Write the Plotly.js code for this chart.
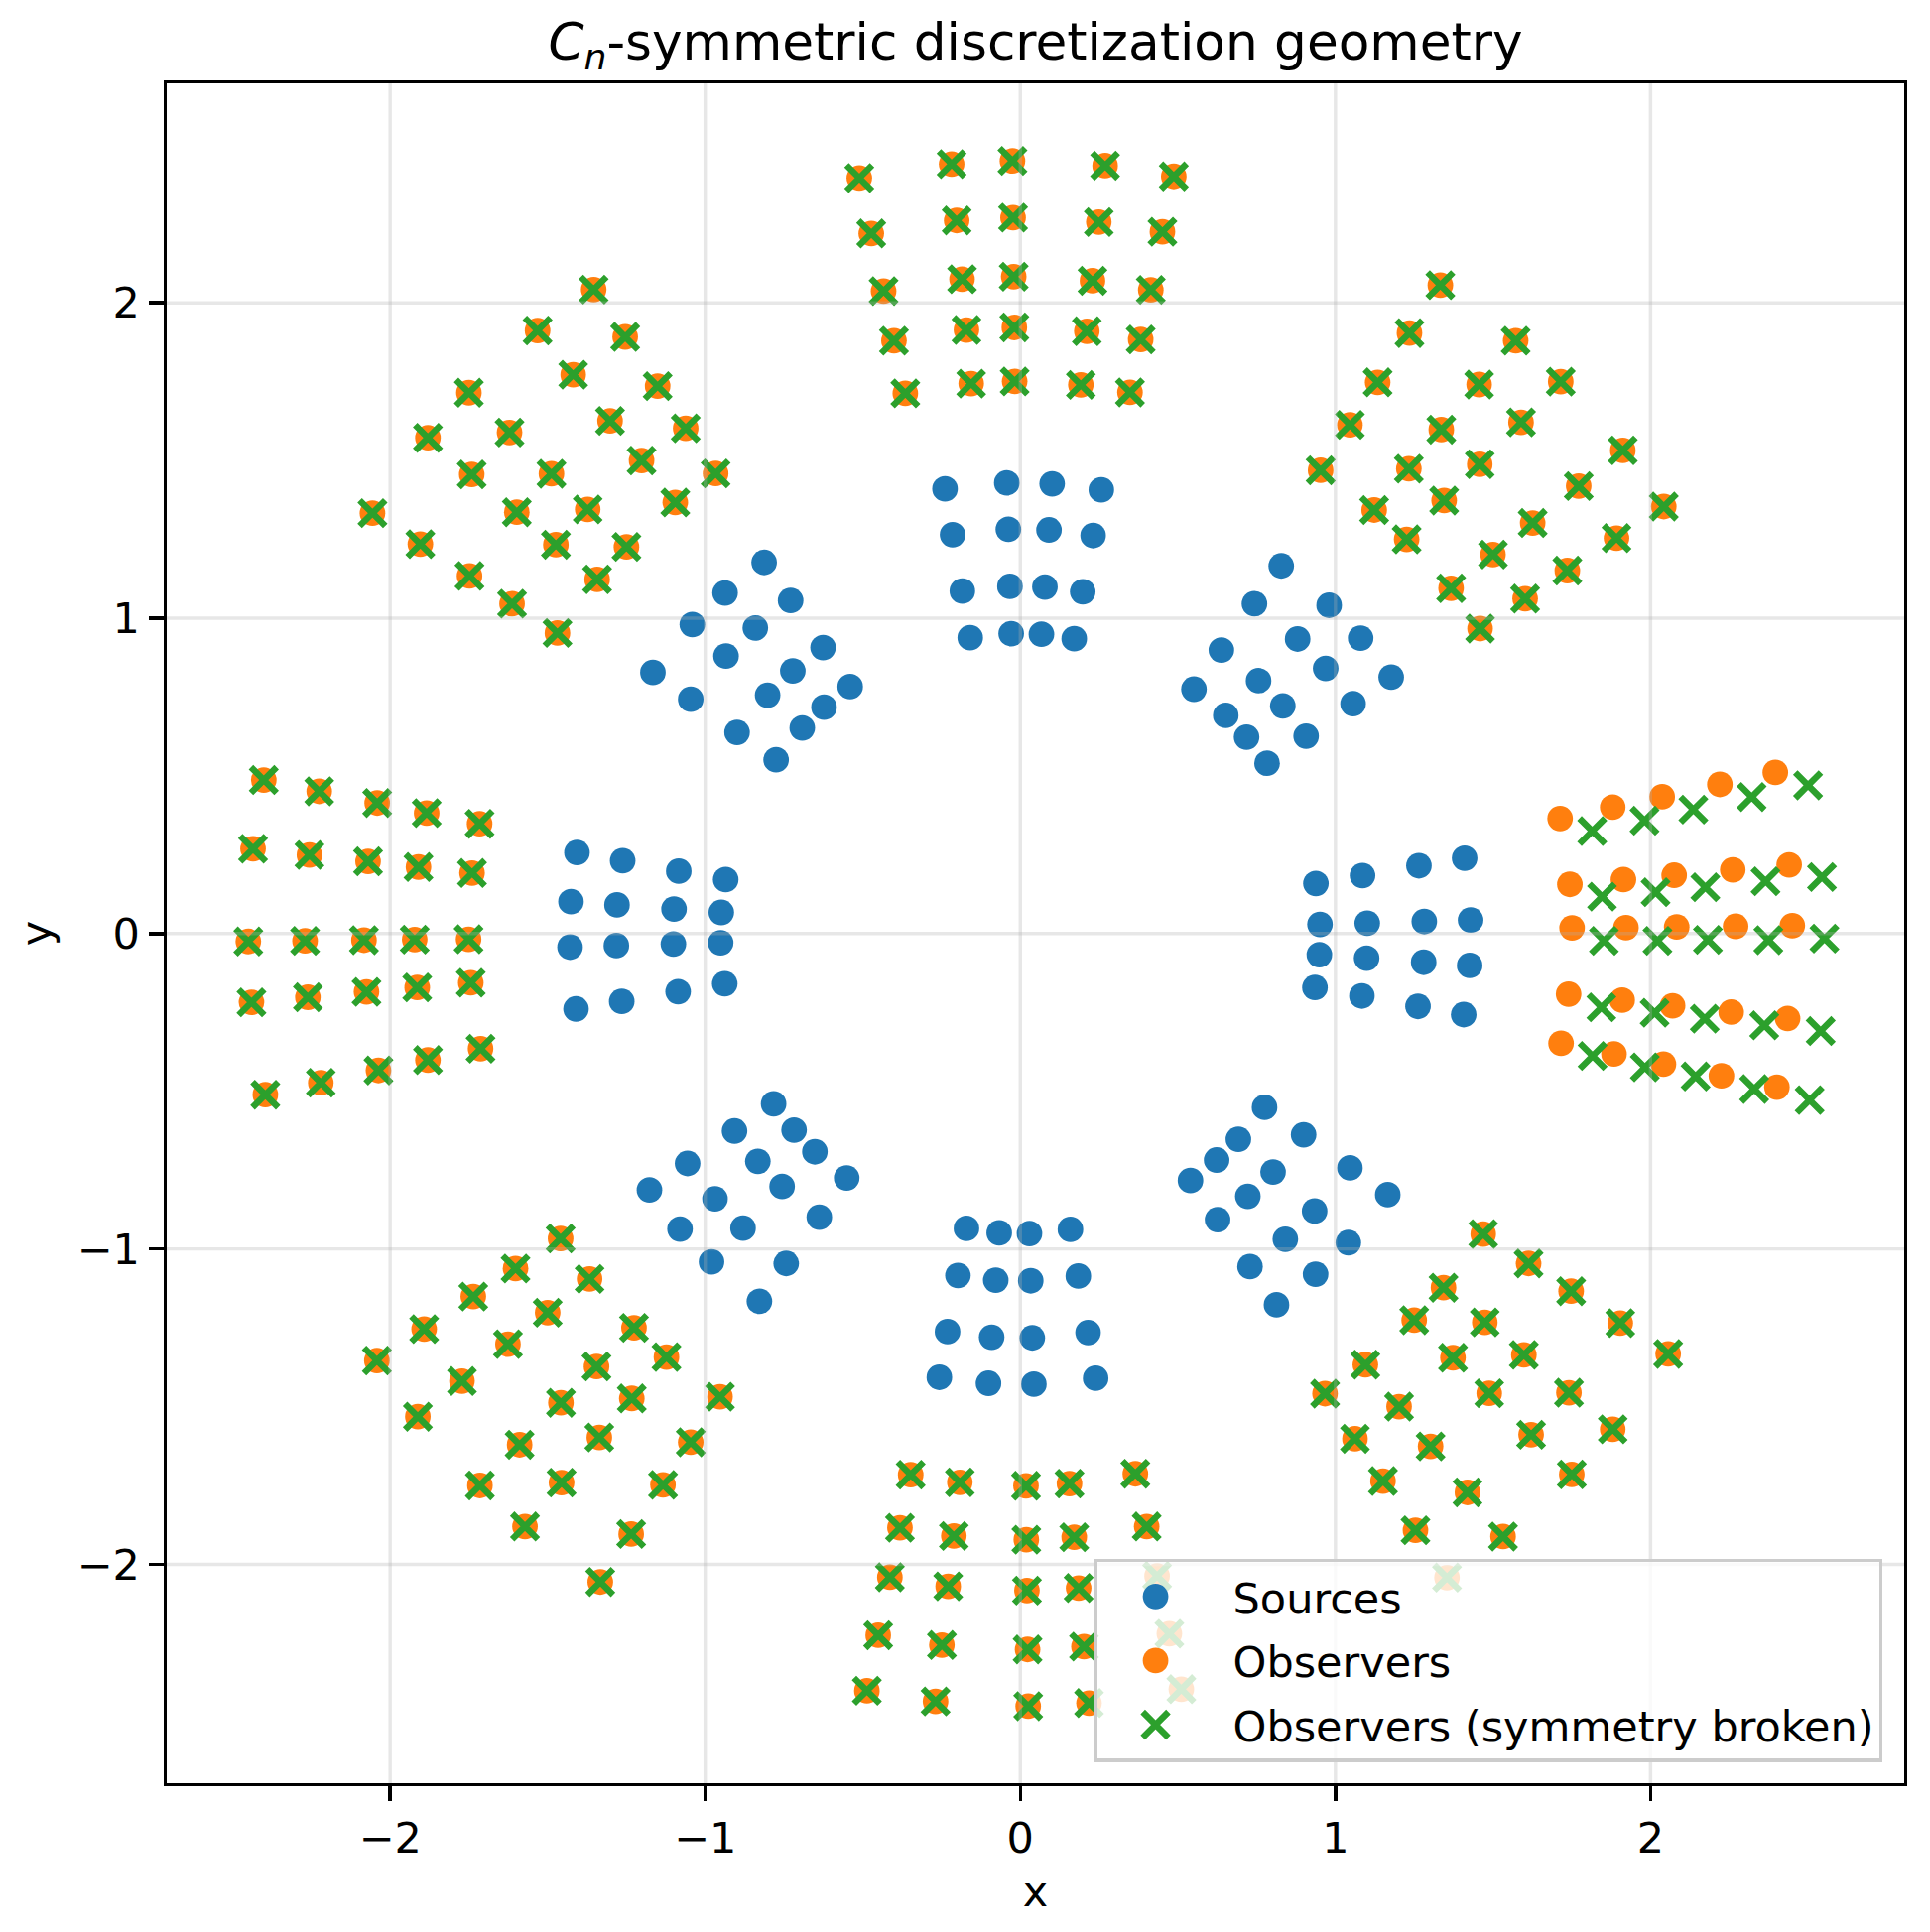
<!DOCTYPE html>
<html>
<head>
<meta charset="utf-8">
<script src="https://cdn.plot.ly/plotly-3.0.1.min.js"></script>
<style>html,body{margin:0;padding:0;background:#fff;}#chart{width:1945px;height:1947px;}</style>
</head>
<body>
<div id="chart"></div>
<script>
// ---------------- Data ----------------
const tickVals = [-2, -1, 0, 1, 2];
const tickText = ['\u22122', '\u22121', '0', '1', '2'];
const seriesNames = ['Sources', 'Observers', 'Observers (symmetry broken)'];

// Sources: 8 clusters of 16 points
const srcE_x  = [0.938, 1.086, 1.265, 1.410, 0.951, 1.101, 1.282, 1.429, 0.949, 1.099, 1.280, 1.426, 0.935, 1.084, 1.262, 1.407];
const srcE_y  = [0.159, 0.184, 0.215, 0.239, 0.029, 0.033, 0.038, 0.043, -0.067, -0.078, -0.091, -0.101, -0.171, -0.198, -0.231, -0.257];
const srcNE_x = [0.551, 0.638, 0.743, 0.828, 0.652, 0.756, 0.880, 0.980, 0.718, 0.833, 0.969, 1.080, 0.783, 0.907, 1.056, 1.177];
const srcNE_y = [0.775, 0.899, 1.046, 1.166, 0.692, 0.802, 0.934, 1.041, 0.623, 0.722, 0.841, 0.937, 0.540, 0.626, 0.729, 0.813];
const srcN_x  = [-0.159, -0.184, -0.215, -0.239, -0.029, -0.033, -0.038, -0.043, 0.067, 0.078, 0.091, 0.101, 0.171, 0.198, 0.231, 0.257];
const srcN_y  = [0.938, 1.086, 1.265, 1.410, 0.951, 1.101, 1.282, 1.429, 0.949, 1.099, 1.280, 1.426, 0.935, 1.084, 1.262, 1.407];
const srcNW_x = [-0.775, -0.899, -1.046, -1.166, -0.692, -0.802, -0.934, -1.041, -0.623, -0.722, -0.841, -0.937, -0.540, -0.626, -0.729, -0.813];
const srcNW_y = [0.551, 0.638, 0.743, 0.828, 0.652, 0.756, 0.880, 0.980, 0.718, 0.833, 0.969, 1.080, 0.783, 0.907, 1.056, 1.177];
const srcW_x  = [-0.938, -1.086, -1.265, -1.410, -0.951, -1.101, -1.282, -1.429, -0.949, -1.099, -1.280, -1.426, -0.935, -1.084, -1.262, -1.407];
const srcW_y  = [-0.159, -0.184, -0.215, -0.239, -0.029, -0.033, -0.038, -0.043, 0.067, 0.078, 0.091, 0.101, 0.171, 0.198, 0.231, 0.257];
const srcSW_x = [-0.551, -0.638, -0.743, -0.828, -0.652, -0.756, -0.880, -0.980, -0.718, -0.833, -0.969, -1.080, -0.783, -0.907, -1.056, -1.177];
const srcSW_y = [-0.775, -0.899, -1.046, -1.166, -0.692, -0.802, -0.934, -1.041, -0.623, -0.722, -0.841, -0.937, -0.540, -0.626, -0.729, -0.813];
const srcS_x  = [0.159, 0.184, 0.215, 0.239, 0.029, 0.033, 0.038, 0.043, -0.067, -0.078, -0.091, -0.101, -0.171, -0.198, -0.231, -0.257];
const srcS_y  = [-0.938, -1.086, -1.265, -1.410, -0.951, -1.101, -1.282, -1.429, -0.949, -1.099, -1.280, -1.426, -0.935, -1.084, -1.262, -1.407];
const srcSE_x = [0.775, 0.899, 1.046, 1.166, 0.692, 0.802, 0.934, 1.041, 0.623, 0.722, 0.841, 0.937, 0.540, 0.626, 0.729, 0.813];
const srcSE_y = [-0.551, -0.638, -0.743, -0.828, -0.652, -0.756, -0.880, -0.980, -0.718, -0.833, -0.969, -1.080, -0.783, -0.907, -1.056, -1.177];

// Observers: 8 clusters of 25 points
const obsE_x  = [1.713, 1.880, 2.037, 2.220, 2.396, 1.744, 1.914, 2.075, 2.261, 2.440, 1.751, 1.922, 2.083, 2.270, 2.450, 1.740, 1.910, 2.070, 2.256, 2.435, 1.716, 1.884, 2.041, 2.225, 2.401];
const obsE_y  = [0.365, 0.401, 0.434, 0.473, 0.511, 0.156, 0.171, 0.185, 0.202, 0.218, 0.018, 0.019, 0.021, 0.023, 0.025, -0.192, -0.211, -0.229, -0.249, -0.269, -0.348, -0.382, -0.414, -0.451, -0.487];
const obsNE_x = [0.953, 1.046, 1.134, 1.235, 1.333, 1.123, 1.233, 1.336, 1.456, 1.572, 1.226, 1.345, 1.458, 1.589, 1.715, 1.367, 1.500, 1.626, 1.772, 1.912, 1.459, 1.602, 1.736, 1.892, 2.042];
const obsNE_y = [1.469, 1.613, 1.748, 1.904, 2.056, 1.343, 1.474, 1.598, 1.741, 1.880, 1.250, 1.373, 1.488, 1.621, 1.750, 1.095, 1.202, 1.302, 1.419, 1.532, 0.967, 1.062, 1.151, 1.254, 1.354];
const obsN_x  = [-0.365, -0.401, -0.434, -0.473, -0.511, -0.156, -0.171, -0.185, -0.202, -0.218, -0.018, -0.019, -0.021, -0.023, -0.025, 0.192, 0.211, 0.229, 0.249, 0.269, 0.348, 0.382, 0.414, 0.451, 0.487];
const obsN_y  = [1.713, 1.880, 2.037, 2.220, 2.396, 1.744, 1.914, 2.075, 2.261, 2.440, 1.751, 1.922, 2.083, 2.270, 2.450, 1.740, 1.910, 2.070, 2.256, 2.435, 1.716, 1.884, 2.041, 2.225, 2.401];
const obsNW_x = [-1.469, -1.613, -1.748, -1.904, -2.056, -1.343, -1.474, -1.598, -1.741, -1.880, -1.250, -1.373, -1.488, -1.621, -1.750, -1.095, -1.202, -1.302, -1.419, -1.532, -0.967, -1.062, -1.151, -1.254, -1.354];
const obsNW_y = [0.953, 1.046, 1.134, 1.235, 1.333, 1.123, 1.233, 1.336, 1.456, 1.572, 1.226, 1.345, 1.458, 1.589, 1.715, 1.367, 1.500, 1.626, 1.772, 1.912, 1.459, 1.602, 1.736, 1.892, 2.042];
const obsW_x  = [-1.713, -1.880, -2.037, -2.220, -2.396, -1.744, -1.914, -2.075, -2.261, -2.440, -1.751, -1.922, -2.083, -2.270, -2.450, -1.740, -1.910, -2.070, -2.256, -2.435, -1.716, -1.884, -2.041, -2.225, -2.401];
const obsW_y  = [-0.365, -0.401, -0.434, -0.473, -0.511, -0.156, -0.171, -0.185, -0.202, -0.218, -0.018, -0.019, -0.021, -0.023, -0.025, 0.192, 0.211, 0.229, 0.249, 0.269, 0.348, 0.382, 0.414, 0.451, 0.487];
const obsSW_x = [-0.953, -1.046, -1.134, -1.235, -1.333, -1.123, -1.233, -1.336, -1.456, -1.572, -1.226, -1.345, -1.458, -1.589, -1.715, -1.367, -1.500, -1.626, -1.772, -1.912, -1.459, -1.602, -1.736, -1.892, -2.042];
const obsSW_y = [-1.469, -1.613, -1.748, -1.904, -2.056, -1.343, -1.474, -1.598, -1.741, -1.880, -1.250, -1.373, -1.488, -1.621, -1.750, -1.095, -1.202, -1.302, -1.419, -1.532, -0.967, -1.062, -1.151, -1.254, -1.354];
const obsS_x  = [0.365, 0.401, 0.434, 0.473, 0.511, 0.156, 0.171, 0.185, 0.202, 0.218, 0.018, 0.019, 0.021, 0.023, 0.025, -0.192, -0.211, -0.229, -0.249, -0.269, -0.348, -0.382, -0.414, -0.451, -0.487];
const obsS_y  = [-1.713, -1.880, -2.037, -2.220, -2.396, -1.744, -1.914, -2.075, -2.261, -2.440, -1.751, -1.922, -2.083, -2.270, -2.450, -1.740, -1.910, -2.070, -2.256, -2.435, -1.716, -1.884, -2.041, -2.225, -2.401];
const obsSE_x = [1.469, 1.613, 1.748, 1.904, 2.056, 1.343, 1.474, 1.598, 1.741, 1.880, 1.250, 1.373, 1.488, 1.621, 1.750, 1.095, 1.202, 1.302, 1.419, 1.532, 0.967, 1.062, 1.151, 1.254, 1.354];
const obsSE_y = [-0.953, -1.046, -1.134, -1.235, -1.333, -1.123, -1.233, -1.336, -1.456, -1.572, -1.226, -1.345, -1.458, -1.589, -1.715, -1.367, -1.500, -1.626, -1.772, -1.912, -1.459, -1.602, -1.736, -1.892, -2.042];

// Observers with broken symmetry: the east cluster is displaced
const brkE_x = [1.815, 1.981, 2.136, 2.321, 2.500, 1.846, 2.016, 2.174, 2.365, 2.544, 1.852, 2.022, 2.182, 2.374, 2.552, 1.844, 2.013, 2.172, 2.361, 2.540, 1.816, 1.982, 2.143, 2.329, 2.505];
const brkE_y = [0.325, 0.358, 0.393, 0.433, 0.470, 0.117, 0.131, 0.147, 0.166, 0.179, -0.023, -0.023, -0.020, -0.021, -0.016, -0.234, -0.251, -0.270, -0.291, -0.309, -0.388, -0.424, -0.453, -0.493, -0.528];

// ---------------- Assemble series ----------------
const srcX = [].concat(srcE_x, srcNE_x, srcN_x, srcNW_x, srcW_x, srcSW_x, srcS_x, srcSE_x);
const srcY = [].concat(srcE_y, srcNE_y, srcN_y, srcNW_y, srcW_y, srcSW_y, srcS_y, srcSE_y);
const obsX = [].concat(obsE_x, obsNE_x, obsN_x, obsNW_x, obsW_x, obsSW_x, obsS_x, obsSE_x);
const obsY = [].concat(obsE_y, obsNE_y, obsN_y, obsNW_y, obsW_y, obsSW_y, obsS_y, obsSE_y);
const brkX = [].concat(brkE_x, obsNE_x, obsN_x, obsNW_x, obsW_x, obsSW_x, obsS_x, obsSE_x);
const brkY = [].concat(brkE_y, obsNE_y, obsN_y, obsNW_y, obsW_y, obsSW_y, obsS_y, obsSE_y);

const FONT = 'DejaVu Sans';
const FS = 43;          // 10 pt at the reference resolution
const MS = 25.8;        // marker diameter
const LW = 3.44;        // spine / tick / grid width
const traces = [
  {type:'scatter', mode:'markers', name:seriesNames[0], x:srcX, y:srcY, legendgroup:'a',
   marker:{symbol:'circle', size:MS, color:'#1f77b4', line:{width:0}}},
  {type:'scatter', mode:'markers', name:seriesNames[1], x:obsX, y:obsY, legendgroup:'b',
   marker:{symbol:'circle', size:MS, color:'#ff7f0e', line:{width:0}}},
  {type:'scatter', mode:'markers', name:seriesNames[2], x:brkX, y:brkY, legendgroup:'c',
   marker:{symbol:'x-thin', size:MS, color:'#2ca02c', line:{width:6.46, color:'#2ca02c'}}}
];

const gridStyle = {color:'rgba(176,176,176,0.3)', width:LW};
const shapes = [];
tickVals.forEach(function(v){
  shapes.push({type:'line', layer:'above', xref:'x', yref:'paper', x0:v, x1:v, y0:0, y1:1, line:gridStyle});
  shapes.push({type:'line', layer:'above', xref:'paper', yref:'y', x0:0, x1:1, y0:v, y1:v, line:gridStyle});
});

const axisCommon = {
  tickvals: tickVals, ticktext: tickText,
  ticks:'outside', ticklen:15, tickwidth:LW, tickcolor:'#000',
  showline:true, linewidth:LW, linecolor:'#000', mirror:true,
  showgrid:false, zeroline:false,
  tickfont:{family:FONT, size:FS, color:'#000'}
};

const layout = {
  width:1945, height:1947,
  margin:{l:168, r:26, t:84, b:150, pad:0, autoexpand:false},
  paper_bgcolor:'#ffffff', plot_bgcolor:'#ffffff',
  font:{family:FONT, size:FS, color:'#000'},
  title:{text:'<i>C</i><sub><i>n</i></sub>-symmetric discretization geometry',
         font:{family:FONT, size:51.7, color:'#000'},
         x:0.5, xref:'paper', xanchor:'center', y:0.9787, yref:'container', yanchor:'middle'},
  xaxis: Object.assign({}, axisCommon, {range:[-2.709, 2.805], ticklabelstandoff:0,
         title:{text:'x', font:{family:FONT, size:FS, color:'#000'}, standoff:16}}),
  yaxis: Object.assign({}, axisCommon, {range:[-2.694, 2.696], ticklabelstandoff:5.5,
         title:{text:'y', font:{family:FONT, size:FS, color:'#000'}, standoff:13}}),
  shapes: shapes,
  showlegend:true,
  legend:{x:0.9875, xanchor:'right', y:0.0123, yanchor:'bottom',
          bgcolor:'rgba(255,255,255,0.8)', bordercolor:'#cccccc', borderwidth:LW,
          font:{family:FONT, size:FS, color:'#000'},
          traceorder:'grouped', tracegroupgap:5.7, itemwidth:127}
};

Plotly.newPlot('chart', traces, layout, {staticPlot:true, displayModeBar:false}).then(function(gd){
  // enlarge legend sample markers to the plotted marker size and place them like the reference
  var k = MS / 16;
  gd.querySelectorAll('.legend .legendpoints path.scatterpts').forEach(function(p){
    var t = p.getAttribute('transform') || '';
    var m = /translate\(\s*([-\d.]+)[ ,]+([-\d.]+)\s*\)/.exec(t);
    var tx = m ? parseFloat(m[1]) : 0, ty = m ? parseFloat(m[2]) : 0;
    p.setAttribute('transform', 'translate(' + (tx - 9.5) + ',' + ty + ') scale(' + k + ')');
    var sw = parseFloat(p.style.strokeWidth || '0');
    if (sw > 0) p.style.strokeWidth = (6.46 / k) + 'px';
  });
});
</script>
</body>
</html>
